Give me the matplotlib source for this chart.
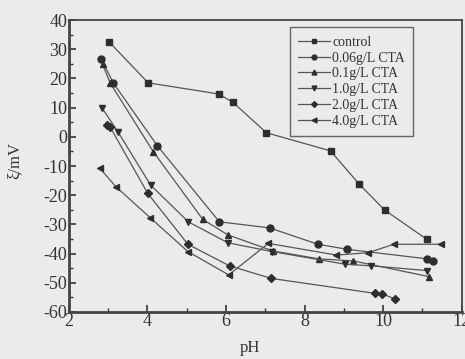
import matplotlib
matplotlib.use("Agg")
import matplotlib.pyplot as plt
from matplotlib.ticker import MultipleLocator

plt.rcParams['font.family'] = ['Liberation Serif', 'DejaVu Serif']
plt.rcParams['axes.unicode_minus'] = False

ph_control = [3.02, 4.02, 5.81, 6.17, 7.03, 8.66, 9.39, 10.04, 11.11]
z_control = [32.6, 18.5, 14.7, 11.9, 1.4, -4.8, -16.2, -25.1, -35.1]

ph_006 = [2.83, 3.13, 4.25, 5.83, 7.11, 8.34, 9.07, 11.12, 11.28]
z_006 = [26.6, 18.5, -3.0, -29.1, -31.2, -36.8, -38.5, -41.8, -42.6]

ph_01 = [2.86, 3.05, 4.15, 5.41, 6.05, 7.2, 8.36, 9.24, 11.17]
z_01 = [24.9, 18.5, -5.1, -28.3, -33.6, -39.1, -41.8, -42.5, -47.9]

ph_10 = [2.85, 3.26, 4.08, 5.04, 6.05, 7.17, 9.02, 9.7, 11.11]
z_10 = [9.8, 1.5, -16.5, -29.1, -36.3, -39.3, -43.6, -44.2, -45.8]

ph_20 = [2.96, 3.05, 4.01, 5.03, 6.09, 7.15, 9.78, 9.98, 10.29]
z_20 = [4.0, 3.4, -19.4, -36.8, -44.2, -48.5, -53.6, -53.8, -55.5]

ph_40 = [2.79, 3.2, 4.07, 5.03, 6.07, 7.08, 8.81, 9.62, 10.27, 11.48]
z_40 = [-10.8, -17.1, -27.7, -39.3, -47.3, -36.5, -40.5, -39.7, -36.8, -36.8]

labels = ['control', '0.06g/L CTA', '0.1g/L CTA', '1.0g/L CTA', '2.0g/L CTA', '4.0g/L CTA']
series = [(ph_control, z_control, 's'), (ph_006, z_006, 'o'), (ph_01, z_01, '^'),
          (ph_10, z_10, 'v'), (ph_20, z_20, 'D'), (ph_40, z_40, '<')]

bg = '#ebebea'
fig = plt.figure(figsize=(4.65, 3.59), dpi=100, facecolor=bg)
ax = fig.add_axes([0.148, 0.131, 0.845, 0.813], facecolor=bg)

for (x, y, m), lab in zip(series, labels):
    ms = 5 if m != 'D' else 4.2
    ax.plot(x, y, color='#555555', lw=0.9, marker=m, ms=ms,
            markerfacecolor='#2e2e2e', markeredgecolor='#2e2e2e', label=lab)

ax.set_xlim(2, 12)
ax.set_ylim(-60, 40)
ax.xaxis.set_major_locator(MultipleLocator(2))
ax.xaxis.set_minor_locator(MultipleLocator(1))
ax.yaxis.set_major_locator(MultipleLocator(10))
ax.yaxis.set_minor_locator(MultipleLocator(5))
ax.tick_params(which='both', direction='in', colors='#333333', labelsize=13, pad=1)
ax.tick_params(which='major', length=5, width=1.2)
ax.tick_params(which='minor', length=3, width=1.0)
for s in ax.spines.values():
    s.set_color('#444444')
    s.set_linewidth(1.3)
ax.spines['left'].set_linewidth(2.0)
ax.spines['bottom'].set_linewidth(2.0)

ax.set_xlabel('pH', fontsize=12, color='#333333')
ax.xaxis.set_label_coords(0.46, -0.095)
ax.set_ylabel('ξ/mV', fontsize=12, color='#333333')
ax.yaxis.set_label_coords(-0.118, 0.52)

leg = ax.legend(loc='upper left', bbox_to_anchor=(0.562, 0.975), fontsize=10,
                labelspacing=0.2, handlelength=2.3, handletextpad=0.15,
                borderpad=0.6, borderaxespad=0, fancybox=False, frameon=True,
                markerscale=0.7)
leg.get_frame().set_edgecolor('#444444')
leg.get_frame().set_facecolor(bg)
leg.get_frame().set_linewidth(1.0)
for t in leg.get_texts():
    t.set_color('#333333')

fig.savefig('out.png', dpi=100, facecolor=bg)
